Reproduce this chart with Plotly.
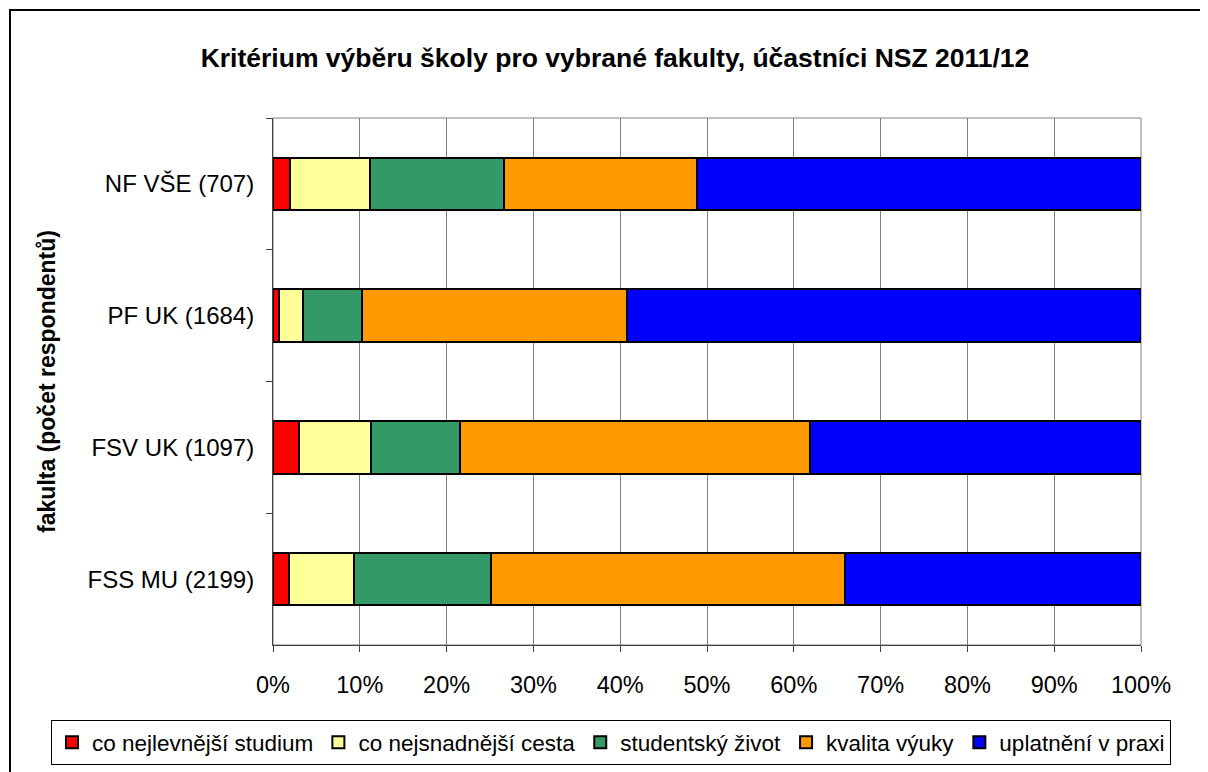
import plotly.graph_objects as go

categories = ["NF VŠE (707)", "PF UK (1684)", "FSV UK (1097)", "FSS MU (2199)"]
series_names = ["co nejlevnější studium", "co nejsnadnější cesta", "studentský život",
                "kvalita výuky", "uplatnění v praxi"]
nejlevnejsi = [2.0, 0.7, 3.0, 1.9]
nejsnadnejsi = [9.2, 2.7, 8.3, 7.4]
studentsky = [15.4, 6.8, 10.3, 15.8]
kvalita = [22.3, 30.6, 40.3, 40.8]
uplatneni = [51.1, 59.2, 38.1, 34.1]
series_values = [nejlevnejsi, nejsnadnejsi, studentsky, kvalita, uplatneni]
colors = ["#FF0000", "#FFFF99", "#339966", "#FF9900", "#0000FF"]
x_ticks = list(range(0, 101, 10))
x_ticklabels = [f"{v}%" for v in x_ticks]

FONT = "Liberation Sans, Arial, sans-serif"

fig = go.Figure()
for name, vals, col in zip(series_names, series_values, colors):
    fig.add_trace(go.Bar(
        y=categories, x=vals, name=name, orientation="h",
        marker=dict(color=col, line=dict(color="black", width=2)),
        width=0.4,
        hovertemplate="%{y}: %{x}%<extra>" + name + "</extra>",
    ))

# page body has an 8px margin; figure coordinates = reference pixels - 8
OFF = 8
W, H = 1200, 764
ml, mr, mt, mb = 273 - OFF, 67, 118 - OFF, 127
pw, ph = W - ml - mr, H - mt - mb

def px_x(p):
    return (p - OFF - ml) / pw

def px_y(p):
    return (H - mb - (p - OFF)) / ph

fig.update_layout(
    width=W, height=H,
    margin=dict(l=ml, r=mr, t=mt, b=mb, pad=0, autoexpand=False),
    barmode="stack",
    paper_bgcolor="white", plot_bgcolor="white",
    font=dict(family=FONT, size=23, color="black"),
    title=dict(text="<b>Kritérium výběru školy pro vybrané fakulty, účastníci NSZ 2011/12</b>",
               x=(615 - OFF) / W, xanchor="center", y=1 - (58 - OFF) / H, yanchor="middle",
               font=dict(family=FONT, size=26.5, color="black")),
    showlegend=True,
    legend=dict(orientation="h", xref="paper", yref="paper",
                x=px_x(51), xanchor="left", y=px_y(720), yanchor="top",
                font=dict(family=FONT, size=22.5, color="black"),
                bordercolor="black", borderwidth=1, bgcolor="white",
                traceorder="normal", itemwidth=30, tracegroupgap=0),
    xaxis=dict(range=[0, 100], tickvals=x_ticks, ticktext=x_ticklabels,
               showgrid=True, gridcolor="#808080", gridwidth=1,
               showline=True, linecolor="#404040", linewidth=1,
               ticks="outside", ticklen=6, tickcolor="#404040",
               ticklabelstandoff=13,
               tickfont=dict(family=FONT, size=23.5, color="black"), zeroline=False,
               fixedrange=True),
    yaxis=dict(autorange="reversed", type="category", tickson="boundaries",
               showline=True, linecolor="#404040", linewidth=1,
               ticks="outside", ticklen=6, tickcolor="#404040",
               showgrid=False, fixedrange=True,
               tickfont=dict(family=FONT, size=24, color="black"),
               ticklabelstandoff=13,
               title=dict(text="<b>fakulta (počet respondentů)</b>", standoff=25,
                          font=dict(family=FONT, size=23, color="black"))),
    shapes=[
        dict(type="rect", xref="x domain", yref="y domain", x0=0, x1=1, y0=0, y1=1,
             line=dict(color="#808080", width=1), layer="below"),
        dict(type="rect", xref="paper", yref="paper",
             x0=px_x(10), x1=px_x(1240), y0=px_y(800), y1=px_y(10),
             line=dict(color="black", width=2), layer="below"),
    ],
)

fig.write_html("out.html")
